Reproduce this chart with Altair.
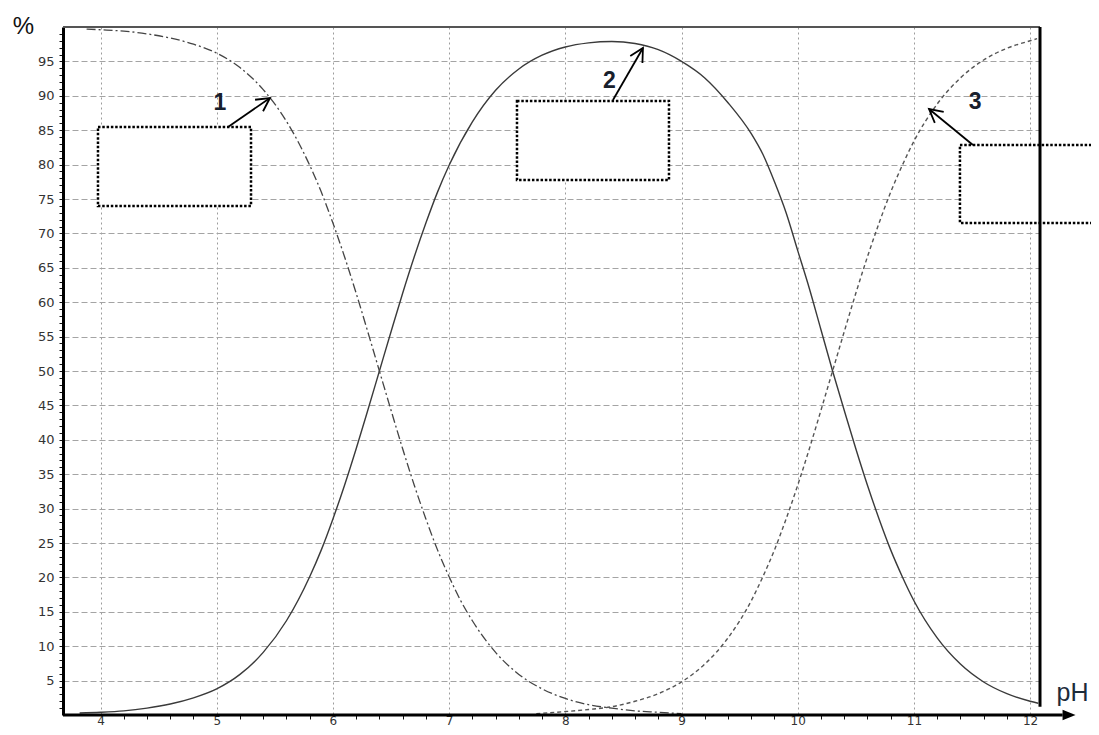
import math
import altair as alt
import pandas as pd

# ---------------- data ----------------
# curve 1 (dash-dot)
c1_ph = [3.88, 4.0, 4.2, 4.4, 4.6, 4.8, 5.0, 5.2, 5.4, 5.6, 5.8, 5.9, 6.0, 6.1,
         6.2, 6.3, 6.4, 6.5, 6.6, 6.7, 6.8, 6.9, 7.0, 7.1, 7.2, 7.4, 7.6, 7.8,
         8.0, 8.2, 8.4, 8.6, 8.8, 9.0]
c1_v = [99.7, 99.6, 99.4, 99.0, 98.4, 97.5, 96.2, 94.1, 90.9, 86.3, 79.9, 76.0,
        71.5, 66.6, 61.3, 55.7, 50.0, 44.3, 38.7, 33.4, 28.5, 24.0, 20.1, 16.6,
        13.7, 9.1, 5.9, 3.8, 2.4, 1.5, 1.0, 0.6, 0.4, 0.2]

# curve 2 (solid)
c2_ph = [3.82, 4.0, 4.2, 4.4, 4.6, 4.8, 5.0, 5.2, 5.4, 5.6, 5.8, 5.9, 6.0, 6.1,
         6.2, 6.3, 6.4, 6.5, 6.6, 6.7, 6.8, 6.9, 7.0, 7.2, 7.4, 7.6, 7.8, 8.0,
         8.2, 8.4, 8.6, 8.8, 9.0, 9.2, 9.4, 9.6, 9.7, 9.8, 9.9, 10.0, 10.1,
         10.2, 10.3, 10.4, 10.5, 10.6, 10.7, 10.8, 10.9, 11.0, 11.2, 11.4, 11.6,
         11.8, 12.0, 12.07]
c2_v = [0.3, 0.4, 0.6, 1.0, 1.6, 2.5, 3.8, 5.9, 9.1, 13.7, 20.1, 24.0, 28.5, 33.4,
        38.7, 44.3, 50.0, 55.7, 61.3, 66.6, 71.5, 76.0, 79.9, 86.2, 90.8, 93.9,
        95.9, 97.1, 97.7, 97.9, 97.6, 96.7, 95.0, 92.6, 89.0, 84.5, 81.5, 77.5,
        73.0, 67.5, 62.0, 56.0, 50.0, 44.3, 38.7, 33.4, 28.5, 24.0, 20.1, 16.6,
        11.2, 7.4, 4.8, 3.1, 2.0, 1.7]

# curve 3 (dashed)
c3_ph = [7.75, 8.0, 8.2, 8.4, 8.6, 8.8, 9.0, 9.2, 9.4, 9.6, 9.7, 9.8, 9.9, 10.0,
         10.1, 10.2, 10.3, 10.4, 10.5, 10.6, 10.7, 10.8, 10.9, 11.0, 11.2, 11.4,
         11.6, 11.8, 12.0, 12.06]
c3_v = [0.2, 0.5, 0.8, 1.2, 2.0, 3.1, 4.8, 7.4, 11.2, 16.6, 20.1, 24.0, 28.5, 33.4,
        38.7, 44.3, 50.0, 55.7, 61.3, 66.6, 71.5, 76.0, 79.9, 83.4, 88.8, 92.6,
        95.2, 96.9, 98.0, 98.3]

# empty label boxes (pH from/to, % from/to)
box_x1 = [3.978, 7.584, 11.396]
box_x2 = [5.295, 8.892, 13.0]
box_y1 = [73.98, 77.76, 71.51]
box_y2 = [85.47, 89.24, 82.85]

# arrows: tail -> tip
arr_x0 = [5.097, 8.410, 11.508]
arr_y0 = [85.47, 89.39, 82.85]
arr_x1 = [5.458, 8.668, 11.130]
arr_y1 = [89.68, 96.95, 88.08]

# curve numbers
num_text = ["1", "2", "3"]
num_x = [5.028, 8.380, 11.526]
num_y = [89.0, 92.2, 89.1]

# frame geometry (data units)
X_MIN, X_MAX = 3.677, 12.085
axis_end = 12.28
axis_tip = 12.335
right_border_bottom = 1.2

x_ticks = [round(4 + 0.2 * i, 1) for i in range(41)]
y_ticks = list(range(1, 100))

# ---------------- chart ----------------
W, H = 977, 688
kx = W / (X_MAX - X_MIN)
ky = H / 100.0

xs = alt.Scale(domain=[X_MIN, X_MAX], nice=False, zero=False)
ys = alt.Scale(domain=[0, 100], nice=False, zero=False)

is_int = "abs(datum.value - round(datum.value)) < 0.01"
x_axis = alt.Axis(
    values=x_ticks,
    labelExpr=f"{is_int} ? '' + round(datum.value) : ''",
    labelOverlap=False, labelFlush=False,
    labelFont="DejaVu Sans", labelFontSize=12, labelColor="#333333",
    labelBaseline="alphabetic", labelPadding=5.3,
    tickSize=4, tickColor="#111111", tickWidth=1,
    tickOpacity={"condition": {"test": is_int, "value": 0}, "value": 1},
    domain=False,
    grid=True, gridColor="#9c9c9c", gridDash=[2, 3], gridWidth=1,
    gridOpacity={"condition": {"test": is_int, "value": 1}, "value": 0},
    title="pH", titleX=993, titleY=-15, titleAlign="left",
    titleBaseline="alphabetic", titleAngle=0,
    titleFont="Liberation Sans", titleFontSize=25, titleFontWeight="normal",
    titleColor="#1d2b3a",
)
y_axis = alt.Axis(
    values=y_ticks,
    labelExpr="datum.value % 5 == 0 ? '' + datum.value : ''",
    labelOverlap=False, labelFlush=False,
    labelFont="DejaVu Sans", labelFontSize=13, labelColor="#333333",
    labelPadding=5, tickSize=4, tickColor="#111111", tickWidth=1,
    domain=True, domainColor="#000000", domainWidth=3,
    grid=True, gridColor="#a4a4a4", gridDash=[6, 3], gridWidth=1,
    gridOpacity={"condition": {"test": "datum.value % 5 == 0", "value": 1}, "value": 0},
    title="%", titleAngle=0, titleX=-40, titleY=6, titleAlign="center",
    titleBaseline="alphabetic", titleFont="Liberation Sans", titleFontSize=24,
    titleFontWeight="normal", titleColor="#111111",
)

X = lambda f="pH": alt.X(f"{f}:Q", scale=xs, axis=x_axis)
Y = lambda f="v": alt.Y(f"{f}:Q", scale=ys, axis=y_axis)

df1 = pd.DataFrame({"pH": c1_ph, "v": c1_v})
df2 = pd.DataFrame({"pH": c2_ph, "v": c2_v})
df3 = pd.DataFrame({"pH": c3_ph, "v": c3_v})

line1 = alt.Chart(df1).mark_line(color="#444444", strokeWidth=1.3,
                                 strokeDash=[9, 3, 2, 3], interpolate="monotone"
                                 ).encode(x=X(), y=Y())
line2 = alt.Chart(df2).mark_line(color="#3a3a3a", strokeWidth=1.4,
                                 interpolate="monotone").encode(x=X(), y=Y())
line3 = alt.Chart(df3).mark_line(color="#555555", strokeWidth=1.4,
                                 strokeDash=[4, 3], interpolate="monotone"
                                 ).encode(x=X(), y=Y())

boxes = alt.Chart(pd.DataFrame({"pH": box_x1, "pH2": box_x2, "v": box_y1, "v2": box_y2})
                  ).mark_rect(fill="white", stroke="black", strokeWidth=2.5,
                              strokeDash=[2.5, 1.8]).encode(
    x=X(), x2="pH2:Q", y=Y(), y2="v2:Q")

angles = [math.degrees(math.atan2(-(y1 - y0) * ky, (x1 - x0) * kx)) % 360
          for x0, y0, x1, y1 in zip(arr_x0, arr_y0, arr_x1, arr_y1)]
arr_df = pd.DataFrame({"pH": arr_x0, "v": arr_y0, "pH2": arr_x1, "v2": arr_y1})
shafts = alt.Chart(arr_df).mark_rule(color="black", strokeWidth=1.8).encode(
    x=X(), x2="pH2:Q", y=Y(), y2="v2:Q")
heads = alt.Chart(pd.DataFrame({"pH": arr_x1, "v": arr_y1, "ang": angles})).mark_point(
    shape="M-1,-0.53L0,0L-1,0.53", filled=False, stroke="black", strokeWidth=1.8,
    size=700, opacity=1).encode(x=X(), y=Y(), angle=alt.Angle("ang:Q", scale=None))

nums = alt.Chart(pd.DataFrame({"pH": num_x, "v": num_y, "t": num_text})).mark_text(
    font="Liberation Sans", fontWeight="bold", fontSize=23, color="#18202c",
    align="center", baseline="middle").encode(x=X(), y=Y(), text="t:N")

xline = alt.Chart(pd.DataFrame({"pH": [X_MIN], "pH2": [axis_end], "v": [0]})).mark_rule(
    color="black", strokeWidth=3).encode(x=X(), x2="pH2:Q", y=Y())
xarrow = alt.Chart(pd.DataFrame({"pH": [axis_tip], "v": [0]})).mark_point(
    shape="M-1,-0.8L1,0L-1,0.8Z", filled=True, color="black", size=169,
    opacity=1, strokeWidth=0).encode(x=X(), y=Y())
top_border = alt.Chart(pd.DataFrame({"pH": [X_MIN], "pH2": [X_MAX], "v": [100]})).mark_rule(
    color="#555555", strokeWidth=2).encode(x=X(), x2="pH2:Q", y=Y())
right_border = alt.Chart(pd.DataFrame({"pH": [X_MAX], "v": [right_border_bottom], "v2": [100]})
                         ).mark_rule(color="black", strokeWidth=3).encode(
    x=X(), y=Y(), y2="v2:Q")

chart = alt.layer(
    line2, line1, line3, boxes, shafts, heads, nums,
    top_border, right_border, xline, xarrow,
).properties(
    width=W, height=H,
    padding={"left": 55, "top": 19, "right": 51, "bottom": 12},
    autosize=alt.AutoSizeParams(type="none"),
    background="white",
).configure_view(strokeWidth=0)

chart.save("out.html", embed_options={"renderer": "svg", "actions": False})
